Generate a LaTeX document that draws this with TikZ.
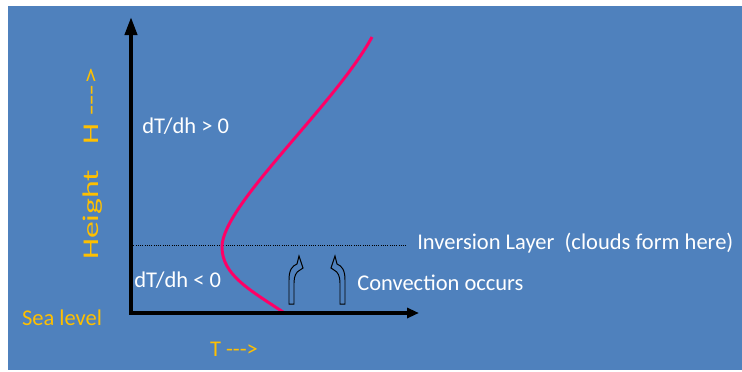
\documentclass[tikz,border=0pt]{standalone}
\usepackage{fontspec}
\setmainfont{Carlito}
\usetikzlibrary{arrows.meta,positioning}
\definecolor{slideblue}{RGB}{79,129,189}
\definecolor{labelorange}{RGB}{255,192,0}
\definecolor{tempred}{RGB}{255,0,102}
\newcommand{\arrtxt}{-{}-{}->}

\begin{document}
\begin{tikzpicture}[x=0.025cm,y=-0.025cm,
  lbl/.style={font=\fontsize{16}{19}\selectfont,text=white,inner sep=0pt},
  olbl/.style={lbl,text=labelorange},
  axis/.style={line width=2.8pt},
  profile/.style={tempred,line width=2.1pt},
  convarrow/.pic={\draw[line width=0.7pt] (0,0) -- (0,-24) .. controls (0,-34) and (3,-38) .. (8,-40)
    -- (10,-48) -- (14,-36) -- (11,-34) .. controls (7,-32) and (5,-28) .. (5,-21) -- (5,0) -- cycle;}]
\useasboundingbox (0,0) rectangle (742,371);
\fill[slideblue] (8,6) rectangle (742,370);
\coordinate (origin) at (131,313);
\coordinate (ytop) at (131,17);
\coordinate (xend) at (419,313);
\coordinate (inv-l) at (131,245);
\coordinate (inv-r) at (407,245);
\coordinate (surf) at (283,312);
\coordinate (invpt) at (222,247);
\coordinate (top) at (372,37);
% inversion layer and temperature profile
\draw[densely dotted,line width=0.6pt] (inv-l) -- (inv-r);
\draw[profile] (surf) .. controls (250,290) and (222,275) .. (invpt) .. controls (222,205) and (335,105) .. (top);
% axes
\draw[axis,{Triangle[length=0.45cm,width=0.3cm]}-{Triangle[length=0.3cm,width=0.25cm]}] (ytop) |- (xend);
\pic at (289,304) {convarrow};
\pic[xscale=-1] at (345,304) {convarrow};
\node[lbl,anchor=west] (gradup) at (142,126) {dT/dh > 0};
\node[lbl,anchor=west] (graddown) at (134,280) {dT/dh < 0};
\node[lbl,anchor=west] (invlbl) at (417,243) {Inversion Layer\ \ (clouds form here)};
\node[lbl,anchor=west] (convlbl) at (357,283) {Convection occurs};
\node[olbl] (sealvl) at (62,318) {Sea level};
\node[olbl] (tlbl) at (234,349) {T \arrtxt};
\node[olbl,rotate=90] (hlbl) at (93,164) {\scalebox{1.5}[1]{Height\hspace{12pt}H \arrtxt}};
\end{tikzpicture}
\end{document}
